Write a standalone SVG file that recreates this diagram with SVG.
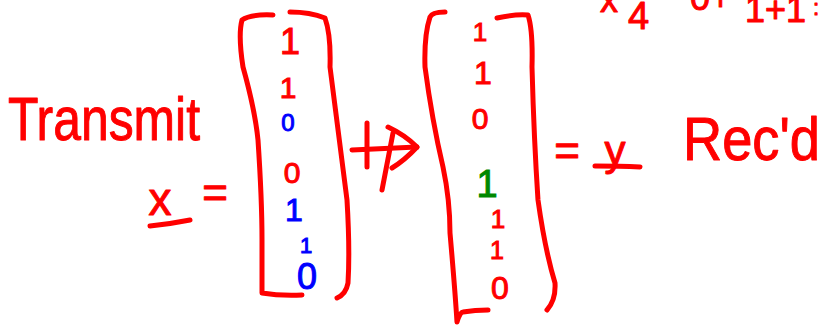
<svg xmlns="http://www.w3.org/2000/svg" width="821" height="327" viewBox="0 0 821 327">
<style>
.ink{fill:none;stroke:#f00;stroke-width:5;stroke-linecap:round;stroke-linejoin:round}
.t{font-family:"Liberation Sans",Arial,sans-serif;fill:#f00;stroke:#f00;stroke-width:1;stroke-linejoin:round}
.d{font-family:"Liberation Sans",Arial,sans-serif;text-anchor:middle;stroke-width:1}
.r{fill:#f00;stroke:#f00}
.b{fill:#00f;stroke:#00f}
.g{fill:#080;stroke:#080}
</style>
<rect width="821" height="327" fill="#fff"/>
<g id="top-partial">
<text class="t" x="600" y="12" font-size="36">x</text>
<text class="t" x="628" y="29" font-size="38">4</text>
<text class="t" x="690" y="10" font-size="36">0+</text>
<text class="t" x="745" y="22" font-size="36">1+1</text>
<text class="t" x="813" y="15" font-size="22">:</text>
</g>
<g id="transmit-label">
<text class="t" x="8" y="140" font-size="62" textLength="192" lengthAdjust="spacingAndGlyphs">Transmit</text>
<text class="t" x="160" y="215" font-size="46" text-anchor="middle">x</text>
<path class="ink" d="M150 226 Q170 224 190 220"/>
<text class="t" x="215" y="208" font-size="44" text-anchor="middle">=</text>
</g>
<g id="vector-x">
<path class="ink" d="M273 15 Q250 14 242 20 Q238 35 243 67 Q255 110 258 140 Q262 200 262 240 L262 293 Q280 296 302 295"/>
<path class="ink" d="M290 12 Q310 12 325 18 Q331 35 330 67 Q338 130 347 200 Q350 250 348 283 Q346 294 337 298"/>
<text class="d r" x="290" y="54" font-size="36">1</text>
<text class="d r" x="288" y="98" font-size="30">1</text>
<text class="d b" x="288" y="131" font-size="24">0</text>
<text class="d r" x="292" y="183" font-size="30">0</text>
<text class="d b" x="294" y="221" font-size="32">1</text>
<text class="d b" x="306" y="253" font-size="22">1</text>
<text class="d b" x="307" y="289" font-size="36">0</text>
</g>
<g id="connectors">
<path class="ink" d="M352 150 L417 147"/>
<path class="ink" d="M367 123 L367 167"/>
<path class="ink" d="M388 127 Q405 135 417 147 Q405 160 392 168"/>
<path class="ink" d="M393 133 L382 190"/>
</g>
<g id="vector-y">
<path class="ink" d="M445 12 Q432 12 430 17 Q424 35 425 67 Q432 120 443 167 Q450 200 450 233 Q455 290 457 322 Q460 312 463 312 Q475 310 488 310"/>
<path class="ink" d="M497 18 Q515 14 528 15 Q533 30 532 67 Q534 140 538 200 Q545 250 555 283 Q556 300 547 310"/>
<text class="d r" x="480" y="41" font-size="26">1</text>
<text class="d r" x="483" y="84" font-size="32">1</text>
<text class="d r" x="480" y="129" font-size="30">0</text>
<text class="d g" x="487" y="197" font-size="38">1</text>
<text class="d r" x="498" y="228" font-size="26">1</text>
<text class="d r" x="497" y="259" font-size="25">1</text>
<text class="d r" x="500" y="299" font-size="32">0</text>
</g>
<g id="received-label">
<text class="t" x="567" y="166" font-size="44" text-anchor="middle">=</text>
<text class="t" x="615" y="165" font-size="42" text-anchor="middle">y</text>
<path class="ink" d="M595 166 Q620 166 640 167"/>
<text class="t" x="683" y="160" font-size="62" textLength="137" lengthAdjust="spacingAndGlyphs">Rec'd</text>
</g>
</svg>
